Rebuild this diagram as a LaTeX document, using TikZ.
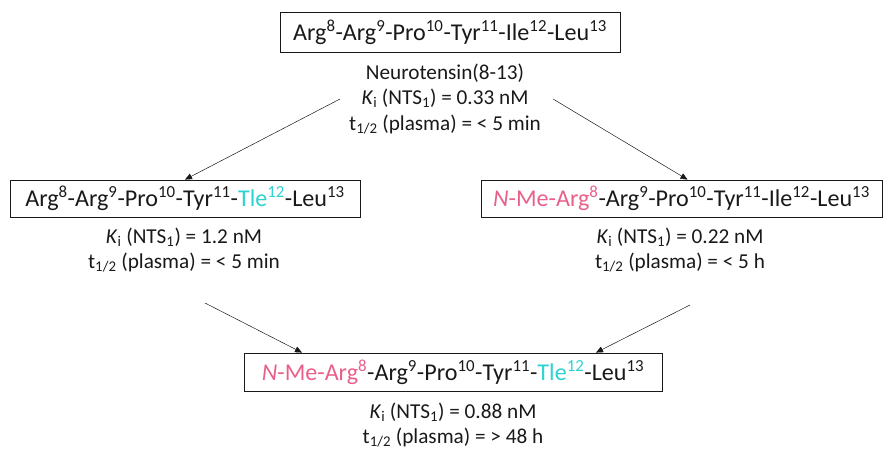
\documentclass[tikz,border=0pt]{standalone}
\usepackage{fontspec}
\setmainfont{Carlito}
\usetikzlibrary{arrows.meta}
\definecolor{nme}{RGB}{232,96,138}
\definecolor{tle}{RGB}{45,210,210}
\definecolor{ink}{RGB}{25,25,25}
\newcommand{\sx}[1]{\textsuperscript{#1}}
\newcommand{\Ki}{\textit{K}\textsubscript{i} (NTS\textsubscript{1})}
\newcommand{\thalf}{t\textsubscript{1/2} (plasma)}
\begin{document}
\begin{tikzpicture}[x=1bp,y=-1bp,
  pep/.style={draw=ink,line width=0.8pt,inner sep=0pt,text=ink,font=\fontsize{24.2}{28}\selectfont},
  lab/.style={align=center,text=ink,inner sep=0pt,font=\fontsize{21.3}{25.5}\selectfont},
  arr/.style={draw=ink,line width=0.5pt,-{Triangle[length=7bp,width=6bp]}}]
\useasboundingbox (0,0) rectangle (885,450);
\node[pep,minimum width=340bp,minimum height=40bp] (top) at (450,32)
  {Arg\sx{8}-Arg\sx{9}-Pro\sx{10}-Tyr\sx{11}-Ile\sx{12}-Leu\sx{13}};
\node[lab] (toplab) at (445,99) {Neurotensin(8-13)\\ \Ki{} = 0.33 nM\\ \thalf{} = < 5 min};
\node[pep,minimum width=350bp,minimum height=37bp] (left) at (185,198.5)
  {Arg\sx{8}-Arg\sx{9}-Pro\sx{10}-Tyr\sx{11}-\textcolor{tle}{Tle\sx{12}}-Leu\sx{13}};
\node[lab] (leftlab) at (184,250) {\Ki{} = 1.2 nM\\ \thalf{} = < 5 min};
\node[pep,minimum width=401bp,minimum height=37bp] (right) at (681.5,198.5)
  {\textcolor{nme}{\textit{N}-Me-Arg\sx{8}}-Arg\sx{9}-Pro\sx{10}-Tyr\sx{11}-Ile\sx{12}-Leu\sx{13}};
\node[lab] (rightlab) at (680,250) {\Ki{} = 0.22 nM\\ \thalf{} = < 5 h};
\node[pep,minimum width=418bp,minimum height=38bp] (bot) at (453,372)
  {\textcolor{nme}{\textit{N}-Me-Arg\sx{8}}-Arg\sx{9}-Pro\sx{10}-Tyr\sx{11}-\textcolor{tle}{Tle\sx{12}}-Leu\sx{13}};
\node[lab] (botlab) at (453,425) {\Ki{} = 0.88 nM\\ \thalf{} = > 48 h};
\coordinate (a1) at (340,99);
\coordinate (a2) at (553,99);
\coordinate (a3) at (205,303);
\coordinate (a4) at (690,305);
\draw[arr] (a1) -- (left.north);
\draw[arr] (a2) -- ([xshift=6bp]right.north);
\draw[arr] (a3) -- ([xshift=-151bp]bot.north);
\draw[arr] (a4) -- ([xshift=143bp]bot.north);
\end{tikzpicture}
\end{document}
